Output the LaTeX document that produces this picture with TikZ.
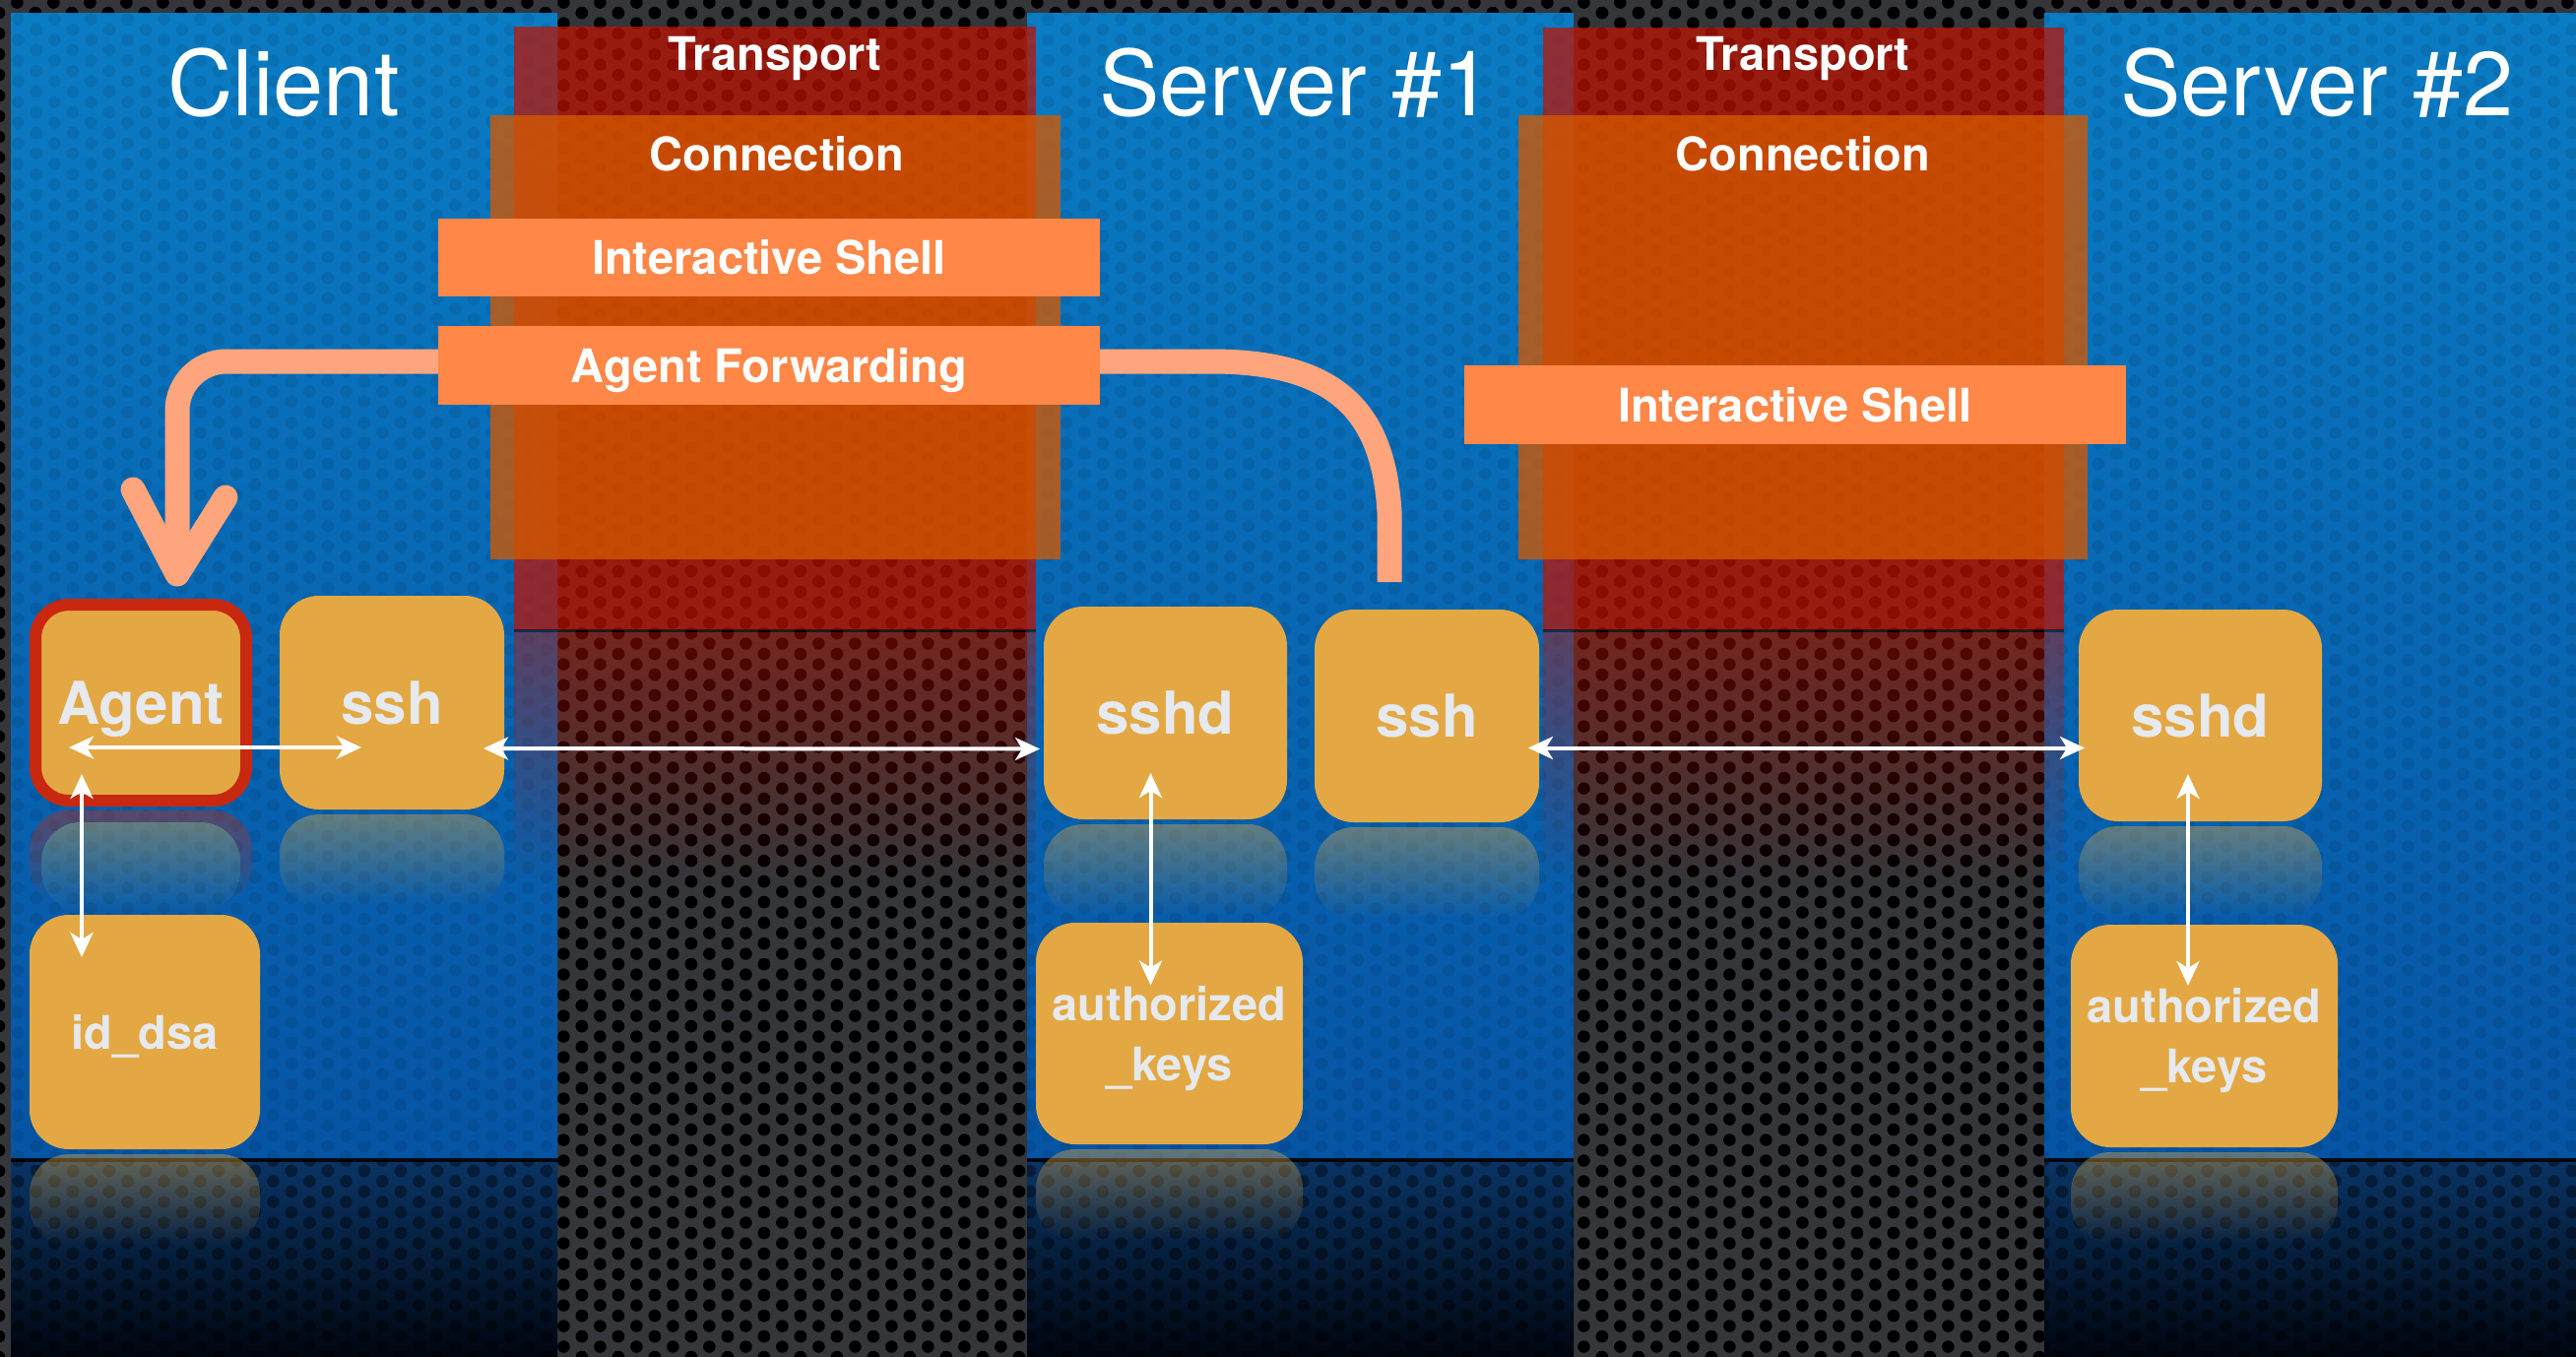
\documentclass[tikz,border=0pt]{standalone}
\usepackage{fontspec}
\setmainfont{TeX Gyre Heros}
\usetikzlibrary{arrows.meta,fadings,patterns}

\definecolor{meshgray}{RGB}{52,54,58}
\definecolor{paneltop}{RGB}{10,124,196}
\definecolor{panelbot}{RGB}{6,84,164}
\definecolor{floortop}{RGB}{10,52,100}
\definecolor{floorbot}{RGB}{0,6,16}
\definecolor{transred}{RGB}{193,18,0}
\definecolor{connorange}{RGB}{214,89,0}
\definecolor{shellorange}{RGB}{255,135,72}
\definecolor{fwdsalmon}{RGB}{255,165,125}
\definecolor{boxgold}{RGB}{227,168,67}
\definecolor{agentred}{RGB}{200,40,15}
\definecolor{labelgray}{RGB}{230,233,237}

% perforated metal: grey sheet with staggered round holes
\pgfdeclarepatterninherentlycolored{mesh}
  {\pgfpointorigin}{\pgfpoint{18.7pt}{10.7pt}}{\pgfpoint{18.7pt}{10.7pt}}
  {
    \pgfsetfillcolor{meshgray}
    \pgfpathrectangle{\pgfpointorigin}{\pgfpoint{18.7pt}{10.7pt}}
    \pgfusepath{fill}
    \pgfsetfillcolor{black}
    \pgfpathcircle{\pgfpoint{0pt}{0pt}}{3.2pt}
    \pgfpathcircle{\pgfpoint{18.7pt}{0pt}}{3.2pt}
    \pgfpathcircle{\pgfpoint{0pt}{10.7pt}}{3.2pt}
    \pgfpathcircle{\pgfpoint{18.7pt}{10.7pt}}{3.2pt}
    \pgfpathcircle{\pgfpoint{9.35pt}{5.35pt}}{3.2pt}
    \pgfusepath{fill}
  }
% the same holes alone, for tinting coloured areas
\pgfdeclarepatternformonly{holes}
  {\pgfpointorigin}{\pgfpoint{18.7pt}{10.7pt}}{\pgfpoint{18.7pt}{10.7pt}}
  {
    \pgfpathcircle{\pgfpoint{0pt}{0pt}}{3.2pt}
    \pgfpathcircle{\pgfpoint{18.7pt}{0pt}}{3.2pt}
    \pgfpathcircle{\pgfpoint{0pt}{10.7pt}}{3.2pt}
    \pgfpathcircle{\pgfpoint{18.7pt}{10.7pt}}{3.2pt}
    \pgfpathcircle{\pgfpoint{9.35pt}{5.35pt}}{3.2pt}
    \pgfusepath{fill}
  }

\tikzset{
  every node/.style={inner sep=0pt, outer sep=0pt},
  title/.style={text=white, font=\fontsize{46pt}{52pt}\selectfont, anchor=base},
  layerlabel/.style={text=white, font=\bfseries\fontsize{23.5pt}{28pt}\selectfont, anchor=base},
  shellband/.style={fill=shellorange, text=white, minimum width=336pt,
    font=\bfseries\fontsize{23.5pt}{28pt}\selectfont, text height=17pt, text depth=0pt},
  box/.style={fill=boxgold, rounded corners=20pt, text=labelgray,
    font=\bfseries\fontsize{30pt}{36pt}\selectfont, text height=21.5pt, text depth=0pt},
  filebox/.style={fill=boxgold, rounded corners=20pt, text=labelgray, align=center,
    font=\bfseries\fontsize{23.5pt}{30.5pt}\selectfont, text height=47.5pt, text depth=0pt},
  wire/.style={draw=white, line width=2pt,
    {Stealth[length=12.5pt,width=11.5pt,inset=3.5pt]}-{Stealth[length=12.5pt,width=11.5pt,inset=3.5pt]}},
  fwd/.style={draw=fwdsalmon, line width=12.5pt},
  mirror/.style={fill=boxgold, fill opacity=.42, path fading=south, rounded corners=20pt},
}

\begin{document}
\begin{tikzpicture}[x=0.5pt,y=-0.5pt]
\useasboundingbox (0,0) rectangle (2616,1377);

% metal background
\fill[pattern=mesh] (0,0) rectangle (2616,1377);

% blue host panels with their floor reflection
\foreach \xa/\xb in {11/566, 1043/1598, 2076/2616} {
  \shade[top color=paneltop, bottom color=panelbot] (\xa,13) rectangle (\xb,1177);
  \fill[pattern=holes, pattern color=black, fill opacity=.08] (\xa,13) rectangle (\xb,1177);
  \shade[top color=floortop, bottom color=floorbot] (\xa,1179) rectangle (\xb,1377);
  \fill[pattern=holes, pattern color=black, fill opacity=.4] (\xa,1179) rectangle (\xb,1377);
  \fill[black, fill opacity=.85] (\xa,1176) rectangle (\xb,1180);
}

% transport layers
\fill[transred, fill opacity=.72] (522,27) rectangle (1052,640);
\fill[transred, fill opacity=.72] (1567,28) rectangle (2096,640);
\fill[transred, fill opacity=.45, path fading=south] (522,642) rectangle (1052,900);
\fill[transred, fill opacity=.45, path fading=south] (1567,642) rectangle (2096,900);
\fill[black, fill opacity=.5] (522,639) rectangle (1052,642);
\fill[black, fill opacity=.5] (1567,639) rectangle (2096,642);

% connection layers
\fill[connorange, fill opacity=.77] (498,117) rectangle (1077,568);
\fill[connorange, fill opacity=.77] (1542,117) rectangle (2120,568);

% channels
\node[shellband, minimum height=39.5pt] (sh1) at (781,261.5) {Interactive Shell};
\node[shellband, minimum height=40pt] (af) at (781,371) {Agent Forwarding};
\node[shellband, minimum height=40pt] (sh2) at (1823,411) {Interactive Shell};

% titles and layer names
\node[title] (client) at (288,117) {Client};
\node[title] (server1) at (1316,117) {Server \#1};
\node[title] (server2) at (2353,117) {Server \#2};
\node[layerlabel] (tr1) at (787,71) {Transport};
\node[layerlabel] (tr2) at (1831,71) {Transport};
\node[layerlabel] (cn1) at (789,173) {Connection};
\node[layerlabel] (cn2) at (1831,173) {Connection};

% reflections of the process boxes
\fill[agentred, fill opacity=.42, path fading=south, rounded corners=20pt, even odd rule]
  (30,823) rectangle (256,920) (42,835) rectangle (244,930);
\fill[mirror] (42,835) rectangle (244,925);
\fill[mirror] (284,827) rectangle (512,920);
\fill[mirror] (30,1172) rectangle (264,1265);
\fill[mirror] (1060,837) rectangle (1307,930);
\fill[mirror] (1335,840) rectangle (1563,933);
\fill[mirror] (1052,1167) rectangle (1323,1260);
\fill[mirror] (2111,839) rectangle (2358,932);
\fill[mirror] (2103,1170) rectangle (2374,1263);

% processes and key files
\node[box, draw=agentred, line width=6pt, rounded corners=17pt,
      minimum width=107pt, minimum height=99.5pt] (agent) at (143,713.5) {Agent};
\node[box, minimum width=114pt, minimum height=108.5pt] (ssh0) at (398,713.5) {ssh};
\node[box, font=\bfseries\fontsize{23.5pt}{30.5pt}\selectfont, text height=17pt,
      minimum width=117pt, minimum height=119pt] (iddsa) at (147,1048) {id\_dsa};
\node[box, minimum width=123.5pt, minimum height=108pt] (sshd1) at (1183.5,724) {sshd};
\node[box, minimum width=114pt, minimum height=108pt] (ssh1) at (1449,727) {ssh};
\node[filebox, minimum width=135.5pt, minimum height=112.5pt] (keys1) at (1187.5,1049.5) {authorized\\\_keys};
\node[box, minimum width=123.5pt, minimum height=107.5pt] (sshd2) at (2234.5,726.5) {sshd};
\node[filebox, minimum width=135.5pt, minimum height=113pt] (keys2) at (2238.5,1052) {authorized\\\_keys};

% forwarded agent channel
\coordinate (fwdtip) at (180,583);
\draw[fwd, rounded corners=25pt] ([shift={(0,-4)}]af.west) -| ([shift={(0,-14)}]fwdtip);
\draw[fwd, line cap=round, line join=round]
  ([shift={(-45,-86)}]fwdtip) -- (fwdtip) -- ([shift={(49,-78)}]fwdtip);
\draw[fwd] ([shift={(0,-4)}]af.east) -- ++(113,0)
  .. controls +(130,0) and +(-6,-100) .. ([shift={(-38,-99)}]ssh1.north)
  -- ([shift={(-38,-28)}]ssh1.north);

% local and network links
\draw[wire] ([shift={(34,45.5)}]agent.west) -- ([shift={(83,45.5)}]ssh0.west);
\draw[wire] ([shift={(-21,46.5)}]ssh0.east) -- ([shift={(-4,36.5)}]sshd1.west);
\draw[wire] ([shift={(-11,32.5)}]ssh1.east) -- ([shift={(6,33)}]sshd2.west);
\draw[wire] ([shift={(-60,-27)}]agent.south) -- ([shift={(-64,43)}]iddsa.north);
\draw[wire] ([shift={(-15,-47)}]sshd1.south) -- ([shift={(-19,63.5)}]keys1.north);
\draw[wire] ([shift={(-12.5,-48)}]sshd2.south) -- ([shift={(-16.5,62)}]keys2.north);
\end{tikzpicture}
\end{document}
